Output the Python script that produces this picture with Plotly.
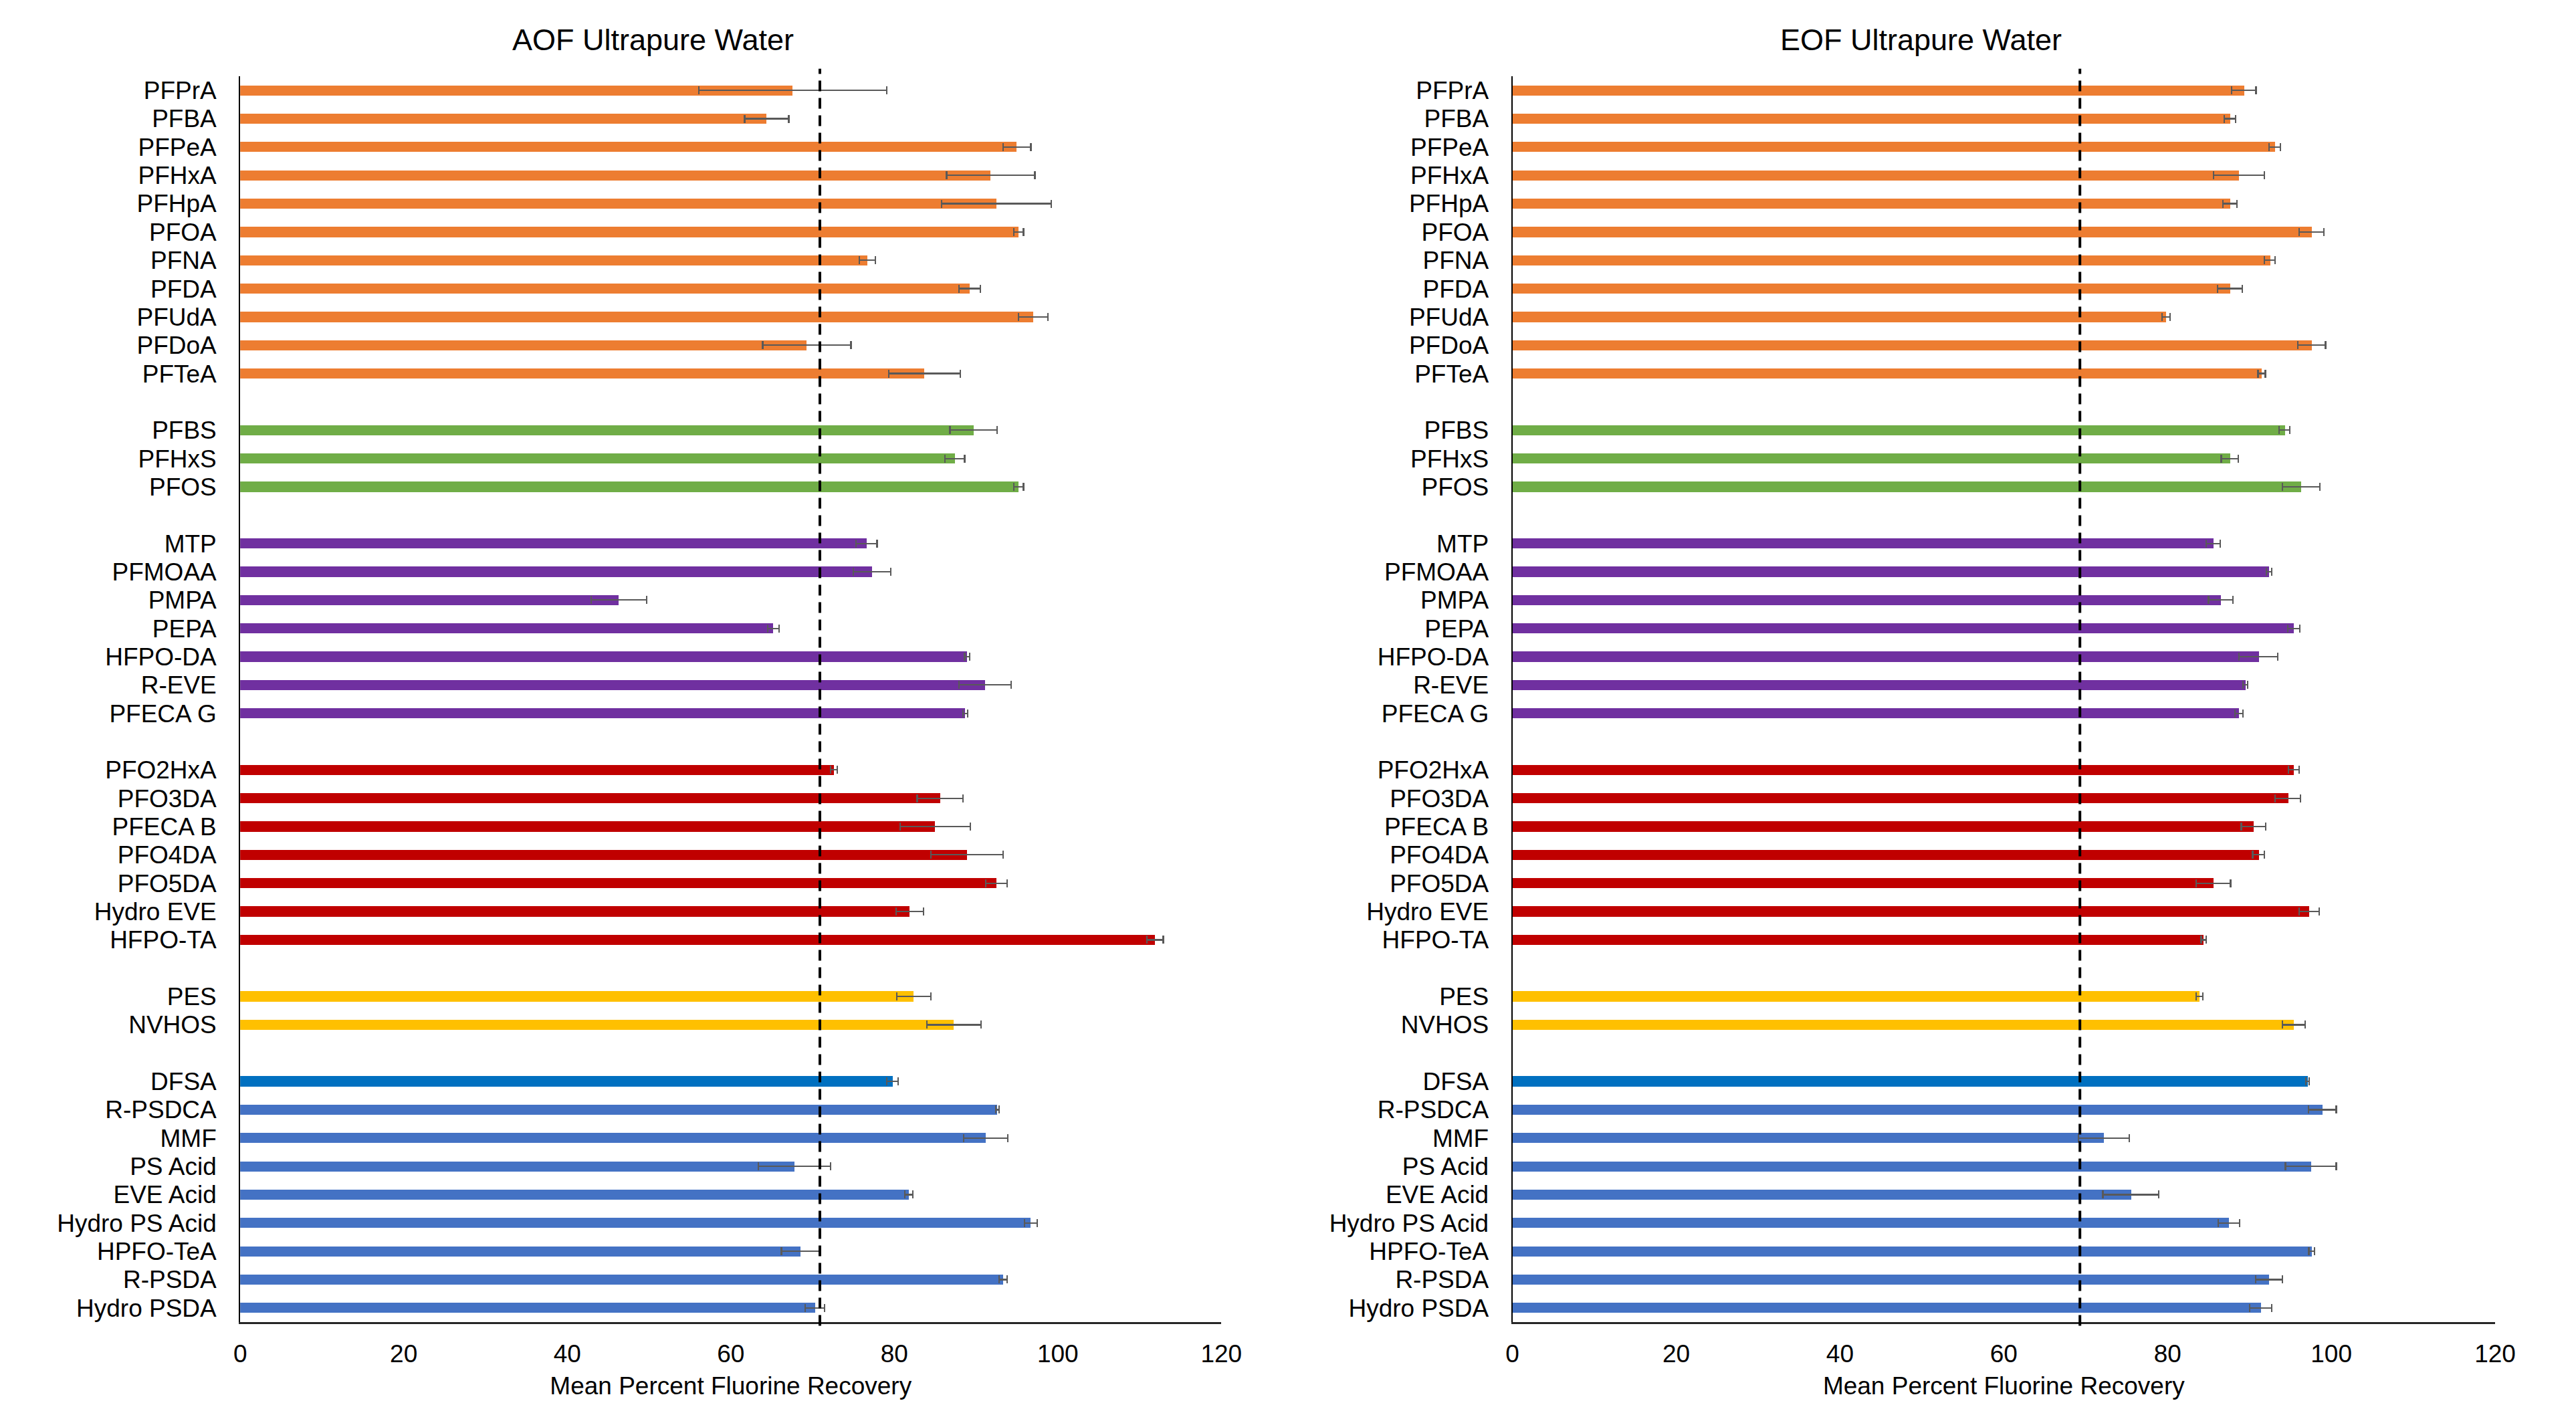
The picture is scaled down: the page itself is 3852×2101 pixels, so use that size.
import plotly.graph_objects as go

# ---- data ----
pfca = ["PFPrA", "PFBA", "PFPeA", "PFHxA", "PFHpA", "PFOA", "PFNA", "PFDA", "PFUdA", "PFDoA", "PFTeA"]
pfsa = ["PFBS", "PFHxS", "PFOS"]
ether_a = ["MTP", "PFMOAA", "PMPA", "PEPA", "HFPO-DA", "R-EVE", "PFECA G"]
ether_b = ["PFO2HxA", "PFO3DA", "PFECA B", "PFO4DA", "PFO5DA", "Hydro EVE", "HFPO-TA"]
ether_s = ["PES", "NVHOS"]
other = ["DFSA", "R-PSDCA", "MMF", "PS Acid", "EVE Acid", "Hydro PS Acid", "HPFO-TeA", "R-PSDA", "Hydro PSDA"]
groups = [pfca, pfsa, ether_a, ether_b, ether_s, other]
group_colors = ["#ED7D31", "#70AD47", "#7030A0", "#C00000", "#FFC000", "#4472C4"]
special_colors = {"DFSA": "#0070C0"}

aof_mean = [67.6, 64.4, 95.0, 91.8, 92.5, 95.2, 76.7, 89.2, 97.0, 69.3, 83.7,
            89.7, 87.4, 95.2,
            76.6, 77.3, 46.3, 65.2, 88.9, 91.1, 88.7,
            72.6, 85.6, 85.0, 88.9, 92.5, 81.9, 111.9,
            82.4, 87.3,
            79.8, 92.6, 91.2, 67.8, 81.8, 96.7, 68.5, 93.3, 70.3]
aof_err = [11.5, 2.7, 1.7, 5.4, 6.7, 0.6, 1.0, 1.3, 1.8, 5.4, 4.4,
           2.9, 1.2, 0.6,
           1.3, 2.3, 3.4, 0.7, 0.3, 3.2, 0.3,
           0.4, 2.8, 4.3, 4.4, 1.3, 1.7, 1.0,
           2.1, 3.3,
           0.7, 0.2, 2.7, 4.4, 0.5, 0.8, 2.3, 0.5, 1.2]

eof_mean = [89.3, 87.6, 93.1, 88.7, 87.6, 97.6, 92.5, 87.6, 79.8, 97.6, 91.5,
            94.3, 87.6, 96.3,
            85.6, 92.4, 86.5, 95.4, 91.1, 89.5, 88.7,
            95.4, 94.7, 90.5, 91.1, 85.6, 97.3, 84.4,
            83.9, 95.4,
            97.1, 98.9, 72.2, 97.5, 75.5, 87.5, 97.6, 92.4, 91.4]
eof_err = [1.5, 0.7, 0.7, 3.1, 0.85, 1.5, 0.65, 1.5, 0.5, 1.7, 0.45,
           0.65, 1.05, 2.3,
           0.85, 0.3, 1.5, 0.75, 2.35, 0.3, 0.5,
           0.65, 1.55, 1.5, 0.7, 2.1, 1.25, 0.3,
           0.4, 1.4,
           0.2, 1.7, 3.1, 3.1, 3.4, 1.3, 0.35, 1.65, 1.35]

aof_ref = 70.9
eof_ref = 69.3
x_ticks = [0, 20, 40, 60, 80, 100, 120]

# ---- build row positions (one blank row between groups) ----
names, pos, colors = [], [], []
row = 0
for gi, g in enumerate(groups):
    for n in g:
        names.append(n)
        pos.append(row)
        colors.append(special_colors.get(n, group_colors[gi]))
        row += 1
    row += 1
last_row = pos[-1]

FONT = "Liberation Sans, Arial, Helvetica, sans-serif"
fig = go.Figure()

panels = [("x", "y", aof_mean, aof_err), ("x2", "y2", eof_mean, eof_err)]
for xa, ya, m, e in panels:
    fig.add_trace(go.Bar(
        x=m, y=pos, orientation="h", xaxis=xa, yaxis=ya,
        marker=dict(color=colors, line=dict(width=0)),
        width=0.36,
        error_x=dict(type="data", array=e, color="#595959", thickness=2.2, width=6),
        showlegend=False,
    ))

# figure is 16px smaller than the window so that the default 8px page margin fits
xdoms = [[0.0899, 0.4765], [0.5912, 0.9784]]
common_x = dict(range=[0, 120], tickvals=x_ticks, showgrid=False, zeroline=False,
                showline=True, linecolor="#262626", linewidth=3, ticks="",
                ticklabelstandoff=13,
                tickfont=dict(family=FONT, size=37, color="black"),
                title=dict(text="Mean Percent Fluorine Recovery", standoff=20,
                           font=dict(family=FONT, size=37, color="black")))
common_y = dict(range=[last_row + 0.5, -0.5], tickvals=pos, ticktext=names,
                showgrid=False, zeroline=False, showline=True, linecolor="black",
                linewidth=2, ticks="", ticklabelstandoff=26,
                tickfont=dict(family=FONT, size=37, color="black"))

fig.update_layout(
    width=3836, height=2085, autosize=False,
    margin=dict(l=0, r=0, t=106, b=116),
    paper_bgcolor="white", plot_bgcolor="white",
    xaxis=dict(domain=xdoms[0], anchor="y", **common_x),
    yaxis=dict(anchor="x", **common_y),
    xaxis2=dict(domain=xdoms[1], anchor="y2", **common_x),
    yaxis2=dict(anchor="x2", **common_y),
    bargap=0,
)

# reference dashed lines
for xref, yref, v in [("x", "y domain", aof_ref), ("x2", "y2 domain", eof_ref)]:
    fig.add_shape(type="line", xref=xref, yref=yref, x0=v, x1=v, y0=-0.003, y1=1.006,
                  line=dict(color="black", width=4, dash="16px,10px"))

# panel titles
for xc, t in zip([0.2525, 0.7521], ["AOF Ultrapure Water", "EOF Ultrapure Water"]):
    fig.add_annotation(text=t, xref="paper", yref="paper", x=xc, y=1.029,
                       xanchor="center", yanchor="middle", showarrow=False,
                       font=dict(family=FONT, size=45, color="black"))

fig.write_html("out.html", config={"responsive": False, "displayModeBar": False})
